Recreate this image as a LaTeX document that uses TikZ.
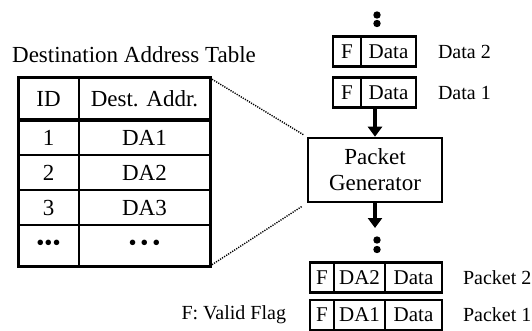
\documentclass[tikz,border=0pt]{standalone}
\usepackage{fontspec}
\setmainfont{Liberation Serif}
\usetikzlibrary{arrows.meta,positioning}

\begin{document}
\begin{tikzpicture}[x=1pt, y=-1pt, line width=2pt,
  tcell/.style={draw, line width=2pt, inner sep=0pt, outer sep=0pt, font=\fontsize{23}{26}\selectfont},
  pcell/.style={draw, line width=2.3pt, inner sep=0pt, outer sep=0pt, minimum height=30pt, font=\fontsize{21}{23}\selectfont},
  lbl/.style={inner sep=3pt, font=\fontsize{20}{23}\selectfont},
  flow/.style={line width=4pt, -{Triangle[length=10pt, width=14pt]}},
  zoomline/.style={line width=1.4pt, dash pattern=on 1.2pt off 1.2pt},
  dot/.style={fill=black, draw=none}]
  \useasboundingbox (0,0) rectangle (532,331);
  % Destination address table
  \node[font=\fontsize{23}{26}\selectfont] (title) at (134,55) {Destination Address Table};
  \node[tcell, minimum width=61pt, minimum height=42pt] (id0) at (48.5,99) {ID};
  \node[tcell, minimum width=131pt, minimum height=42pt, right=0pt of id0] (da0) {Dest. Addr.};
  \foreach \i/\y in {1/137.5, 2/172.5, 3/207.5} {
    \node[tcell, minimum width=61pt, minimum height=35pt] (id\i) at (48.5,\y) {\i};
    \node[tcell, minimum width=131pt, minimum height=35pt, right=0pt of id\i] (da\i) {DA\i};
  }
  \node[tcell, minimum width=61pt, minimum height=41pt] (id4) at (48.5,245.5) {\textbullet\textbullet\textbullet};
  \node[tcell, minimum width=131pt, minimum height=41pt, right=0pt of id4] (da4) {\textbullet\,\textbullet\,\textbullet};
  \draw[line width=3pt] (id0.north west) rectangle (da4.south east);
  \draw[line width=3.2pt] (id0.south west) -- (da0.south east);
  % Packet generator
  \node[draw, line width=2.6pt, minimum width=134pt, minimum height=64pt, align=center,
    font=\fontsize{23}{26}\selectfont] (gen) at (375,170) {Packet\\Generator};
  \draw[zoomline, shorten >=3pt] (da0.north east) -- (gen.north west);
  \draw[zoomline, shorten >=6pt] (da4.south east) -- (gen.south west);
  % Incoming data
  \node[pcell, minimum width=28pt] (f2) at (347,51.5) {F};
  \node[pcell, minimum width=55pt, right=0pt of f2] (dd2) {Data};
  \node[pcell, minimum width=28pt] (f1) at (347,92.5) {F};
  \node[pcell, minimum width=55pt, right=0pt of f1] (dd1) {Data};
  \node[lbl, right=18pt of dd2] (ldata2) {Data 2};
  \node[lbl, right=18pt of dd1] (ldata1) {Data 1};
  \fill[dot] (377,15) circle (3.7);
  \fill[dot] (377,23.5) circle (3.7);
  \draw[flow] (gen.north |- dd1.south) -- (gen.north);
  % Outgoing packets
  \coordinate (tip) at (375,228);
  \draw[flow] (gen.south) -- (tip);
  \fill[dot] (377,240) circle (3.7);
  \fill[dot] (377,249.5) circle (3.7);
  \node[pcell, minimum width=24pt] (pf2) at (322,277.5) {F};
  \node[pcell, minimum width=51pt, right=0pt of pf2] (pa2) {DA2};
  \node[pcell, minimum width=57pt, right=0pt of pa2] (pd2) {Data};
  \node[pcell, minimum width=24pt] (pf1) at (322,315) {F};
  \node[pcell, minimum width=51pt, right=0pt of pf1] (pa1) {DA1};
  \node[pcell, minimum width=57pt, right=0pt of pa1] (pd1) {Data};
  \node[lbl, right=17pt of pd2] (lpkt2) {Packet 2};
  \node[lbl, right=17pt of pd1] (lpkt1) {Packet 1};
  \node[lbl, left=20pt of pf1] (flag) {F: Valid Flag};
\end{tikzpicture}
\end{document}
